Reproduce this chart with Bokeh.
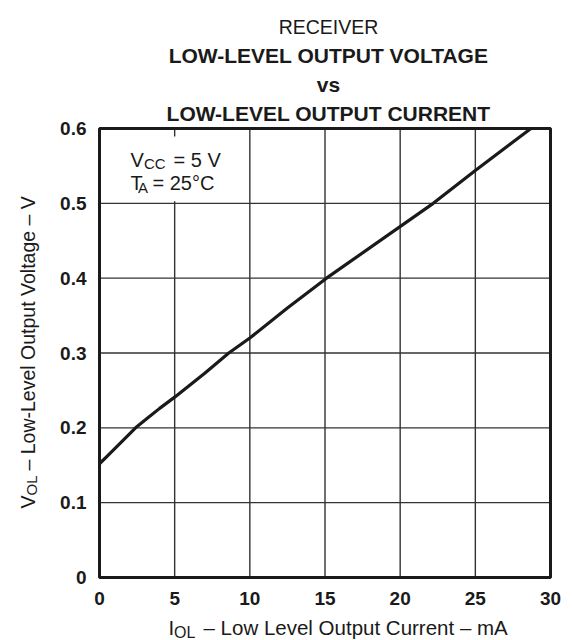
import math

from bokeh.embed import file_html
from bokeh.models import FixedTicker, Label, Range1d
from bokeh.plotting import figure
from bokeh.resources import INLINE

# Receiver low-level output voltage vs low-level output current (VCC = 5 V, TA = 25 C)
current_ma = [0, 0.5, 1, 1.5, 2.4, 3.2, 4, 5, 7, 8.6, 10, 12.5, 15.1, 22.2, 25, 28.7]
vol_v = [0.152, 0.162, 0.172, 0.182, 0.200, 0.213, 0.226, 0.241, 0.273, 0.300,
         0.320, 0.360, 0.400, 0.500, 0.544, 0.600]

x_ticks = [0, 5, 10, 15, 20, 25, 30]
y_ticks = [0, 0.1, 0.2, 0.3, 0.4, 0.5, 0.6]
y_tick_labels = ["0", "0.1", "0.2", "0.3", "0.4", "0.5", "0.6"]

title_lines = ["RECEIVER", "LOW-LEVEL OUTPUT VOLTAGE", "vs", "LOW-LEVEL OUTPUT CURRENT"]

FONT = "Liberation Sans"
INK = "#1a1a1a"
W, H = 572, 640
# pixel box of the plotting area inside the page
LEFT, RIGHT, TOP, BOTTOM = 99, 550, 128, 577
XMIN, XMAX = x_ticks[0], x_ticks[-1]
YMIN, YMAX = y_ticks[0], y_ticks[-1]


def dx(px):
    return XMIN + (px - LEFT) / (RIGHT - LEFT) * (XMAX - XMIN)


def dy(py):
    return YMIN + (BOTTOM - py) / (BOTTOM - TOP) * (YMAX - YMIN)


# the frame spans the whole canvas so that titles can sit anywhere on it
p = figure(
    width=W, height=H,
    x_range=Range1d(dx(0), dx(W)), y_range=Range1d(dy(H), dy(0)),
    output_backend="svg", toolbar_location=None,
    min_border=0, min_border_left=0, min_border_right=0,
    min_border_top=0, min_border_bottom=0,
    background_fill_color="white", border_fill_color="white",
)
p.title.visible = False
p.outline_line_color = None
p.xgrid.visible = False
p.ygrid.visible = False

# axes pinned to the origin of the data area
for ax in (p.xaxis, p.yaxis):
    ax.axis_line_color = None
    ax.major_tick_line_color = None
    ax.minor_tick_line_color = None
    ax.major_label_text_font = FONT
    ax.major_label_text_font_style = "bold"
    ax.major_label_text_font_size = "19px"
    ax.major_label_text_color = INK
p.xaxis.fixed_location = YMIN
p.yaxis.fixed_location = XMIN
p.xaxis.bounds = (XMIN, XMAX)
p.yaxis.bounds = (YMIN, YMAX)
p.xaxis.ticker = FixedTicker(ticks=x_ticks)
p.yaxis.ticker = FixedTicker(ticks=y_ticks)
p.yaxis.major_label_overrides = {t: s for t, s in zip(y_ticks, y_tick_labels)}
p.xaxis.major_label_standoff = 8
p.yaxis.major_label_standoff = 7

# grid lines
grid_style = dict(line_color="#333333", line_width=1.4)
p.segment(x0=x_ticks, y0=[YMIN] * len(x_ticks), x1=x_ticks, y1=[YMAX] * len(x_ticks), **grid_style)
p.segment(x0=[XMIN] * len(y_ticks), y0=y_ticks, x1=[XMAX] * len(y_ticks), y1=y_ticks, **grid_style)

# blank panel behind the test conditions
p.quad(left=dx(LEFT + 2), right=dx(232), bottom=y_ticks[-2] + (YMAX - YMIN) * 2 / (BOTTOM - TOP),
       top=dy(136), fill_color="white", line_color=None)

# curve
p.line(current_ma, vol_v, line_color=INK, line_width=3.2)

# outer frame of the data area
p.quad(left=XMIN, right=XMAX, bottom=YMIN, top=YMAX, fill_color=None,
       line_color=INK, line_width=3)


def txt(px, py, s, size=20.0, bold=False, align="left", angle=0.0):
    p.add_layout(Label(
        x=dx(px), y=dy(py), text=s, text_font=FONT,
        text_font_size=f"{size}px",
        text_font_style="bold" if bold else "normal",
        text_color=INK, text_align=align, text_baseline="alphabetic",
        angle=angle,
    ))


# title block
cx = 328
txt(cx, 26, title_lines[0], size=19.5, align="center")
txt(cx, 55, title_lines[1], size=21, bold=True, align="center")
txt(cx, 83.5, title_lines[2], size=21, bold=True, align="center")
txt(cx, 112.5, title_lines[3], size=21, bold=True, align="center")

# test conditions
txt(130, 159, "V", size=20)
txt(143.5, 163, "CC", size=15)
txt(173, 159, "= 5 V", size=20)
txt(130, 182, "T", size=20)
txt(137.5, 187, "A", size=15)
txt(152, 182, "= 25°C", size=20)

# x-axis title
txt(168, 627, "I", size=20.5)
txt(173.5, 632, "OL", size=16)
txt(203, 627, "– Low Level Output Current – mA", size=20.5)

# y-axis title (rotated, reading upward)
up = math.pi / 2
txt(27, 508, "V", size=19.5, angle=up)
txt(31, 495, "OL", size=15, angle=up)
txt(27, 470, "– Low-Level Output Voltage – V", size=19.5, angle=up)

open("out.html", "w").write(file_html(p, INLINE))
